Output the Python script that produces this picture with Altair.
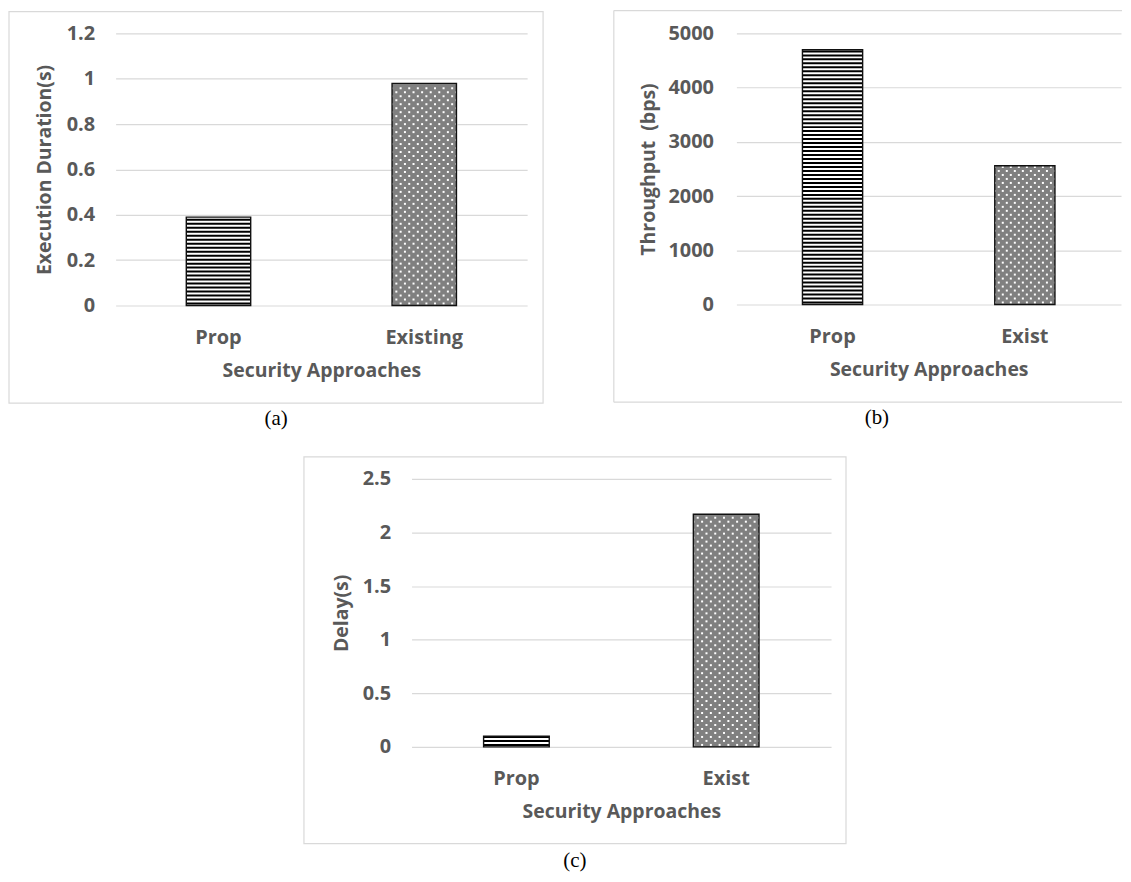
import altair as alt
import pandas as pd

# ---------------- data ----------------
categories_a = ["Prop", "Existing"]
values_a = [0.39, 0.98]
yticks_a = [0, 0.2, 0.4, 0.6, 0.8, 1, 1.2]

categories_b = ["Prop", "Exist"]
values_b = [4700, 2560]
yticks_b = [0, 1000, 2000, 3000, 4000, 5000]

categories_c = ["Prop", "Exist"]
values_c = [0.1, 2.17]
yticks_c = [0, 0.5, 1, 1.5, 2, 2.5]

x_title = "Security Approaches"
y_title_a = "Execution Duration(s)"
y_title_b = "Throughput\u00a0 (bps)"
y_title_c = "Delay(s)"
captions = ["(a)", "(b)", "(c)"]

# ---------------- style ----------------
FONT = "Open Sans"
TXT = "#595959"
GRID = "#d9d9d9"
FILLS = ["#ffffff", "#808080"]
PAD_IN = 0.687
STRIPE_PERIOD = 4   # px
DOT_ROW = 4         # px
DOT_COLS = 16


def stripes(cats, vals, ymax, H):
    unit = ymax / H
    rows = []
    c, v = cats[0], vals[0]
    hpx = v / unit
    k = 0
    while k * STRIPE_PERIOD + 1 < hpx:
        y0 = (k * STRIPE_PERIOD + 1) * unit
        y1 = min((k * STRIPE_PERIOD + 3) * unit, v)
        rows.append({"cat": c, "y0": y0, "y1": y1})
        k += 1
    return pd.DataFrame(rows)


def dots(cats, vals, ymax, H):
    unit = ymax / H
    rows = []
    c, v = cats[1], vals[1]
    hpx = v / unit
    r = 0
    while r * DOT_ROW + 3 < hpx:
        y = (r * DOT_ROW + 2) * unit
        for col in range(r % 2, DOT_COLS, 2):
            rows.append({"cat": c, "y": y, "col": col})
        r += 1
    return pd.DataFrame(rows)


def panel(cats, vals, yticks, ymax, ytitle, caption, W, H, frame, cap_xy,
          ylab_pad, ytitle_x, open_right=False):
    df = pd.DataFrame({"cat": cats, "val": vals, "fillc": FILLS})
    xs = alt.Scale(domain=cats, paddingInner=PAD_IN, paddingOuter=PAD_IN / 2)
    ys = alt.Scale(domain=[0, ymax], nice=False)
    xaxis = alt.Axis(
        title=x_title, labelAngle=0, domain=False, ticks=False, tickSize=0,
        labelFont=FONT, labelFontSize=20, labelFontWeight="bold", labelColor=TXT,
        labelBaseline="middle", labelPadding=32,
        titleFont=FONT, titleFontSize=19.5, titleFontWeight="bold", titleColor=TXT,
        titleBaseline="middle", titleY=65, grid=False,
    )
    yaxis = alt.Axis(
        title=ytitle, values=yticks, format="~r", domain=False, ticks=False, tickSize=0,
        labelFont=FONT, labelFontSize=20, labelFontWeight="bold", labelColor=TXT,
        labelPadding=ylab_pad,
        titleFont=FONT, titleFontSize=19.5, titleFontWeight="bold", titleColor=TXT,
        titleAngle=-90, titleX=ytitle_x, titleY=H / 2, titleAlign="center",
        titleBaseline="middle",
        grid=True, gridColor=GRID, gridWidth=1.2,
    )
    X = alt.X("cat:N", scale=xs, sort=cats, axis=xaxis)

    base = alt.Chart(df).mark_bar(strokeWidth=0).encode(
        x=X,
        y=alt.Y("val:Q", scale=ys, axis=yaxis),
        fill=alt.Fill("fillc:N", scale=None),
    )
    st = alt.Chart(stripes(cats, vals, ymax, H)).mark_bar(color="#000000").encode(
        x=X, y=alt.Y("y0:Q", scale=ys, axis=yaxis), y2="y1:Q"
    )
    dt = alt.Chart(dots(cats, vals, ymax, H)).mark_square(size=4, color="#ffffff", opacity=1).encode(
        x=X,
        xOffset=alt.XOffset("col:O", scale=alt.Scale(domain=list(range(DOT_COLS)), paddingInner=0, paddingOuter=0)),
        y=alt.Y("y:Q", scale=ys, axis=yaxis),
    )
    outline = alt.Chart(df).mark_bar(fillOpacity=0, stroke="#111111", strokeWidth=1.4).encode(
        x=X, y=alt.Y("val:Q", scale=ys, axis=yaxis)
    )
    one = pd.DataFrame({"k": [0]})
    layers = [base, st, dt, outline]
    if open_right:
        for (xa, xb, ya, yb) in [(frame[0], frame[1], frame[2], frame[2]),
                                 (frame[0], frame[1], frame[3], frame[3]),
                                 (frame[0], frame[0], frame[2], frame[3])]:
            layers.append(alt.Chart(one).mark_rule(stroke=GRID, strokeWidth=1.2).encode(
                x=alt.value(xa), x2=alt.value(xb), y=alt.value(ya), y2=alt.value(yb)))
    else:
        layers.append(alt.Chart(one).mark_rect(fillOpacity=0, stroke=GRID, strokeWidth=1.2).encode(
            x=alt.value(frame[0]), x2=alt.value(frame[1]),
            y=alt.value(frame[2]), y2=alt.value(frame[3]),
        ))
    layers.append(alt.Chart(one).mark_text(font="Liberation Serif", fontSize=21, color="#000000",
                                           align="center", baseline="middle").encode(
        x=alt.value(cap_xy[0]), y=alt.value(cap_xy[1]), text=alt.value(caption)
    ))
    return alt.layer(*layers).properties(width=W, height=H).resolve_scale(xOffset="independent")


pa = panel(categories_a, values_a, yticks_a, 1.2, y_title_a, captions[0],
           413, 273, (-107, 429, -22, 371), (161, 387), 21, -71)
pb = panel(categories_b, values_b, yticks_b, 5000, y_title_b, captions[1],
           386, 272, (-123, 387, -23, 370), (141, 386), 23, -88, open_right=True)
pc = panel(categories_c, values_c, yticks_c, 2.5, y_title_c, captions[2],
           421, 269, (-108, 436, -22, 366), (164, 384), 21, -70)

# empty white spacer that pushes panel (c) to its place in the bottom row
spacer = alt.Chart(pd.DataFrame({"k": [0]})).mark_rect(fill="#ffffff", strokeWidth=0).encode(
    x=alt.value(0), x2=alt.value(1), y=alt.value(0), y2=alt.value(1)
).properties(width=188, height=2)

top = alt.hconcat(pa, pb, spacing=69)
bottom = alt.hconcat(spacer, pc, spacing=0)
chart = alt.vconcat(top, bottom, spacing=27).properties(
    padding=0, background="white"
).configure_view(strokeWidth=0)

chart.save("out.html", embed_options={"renderer": "svg", "actions": False})
